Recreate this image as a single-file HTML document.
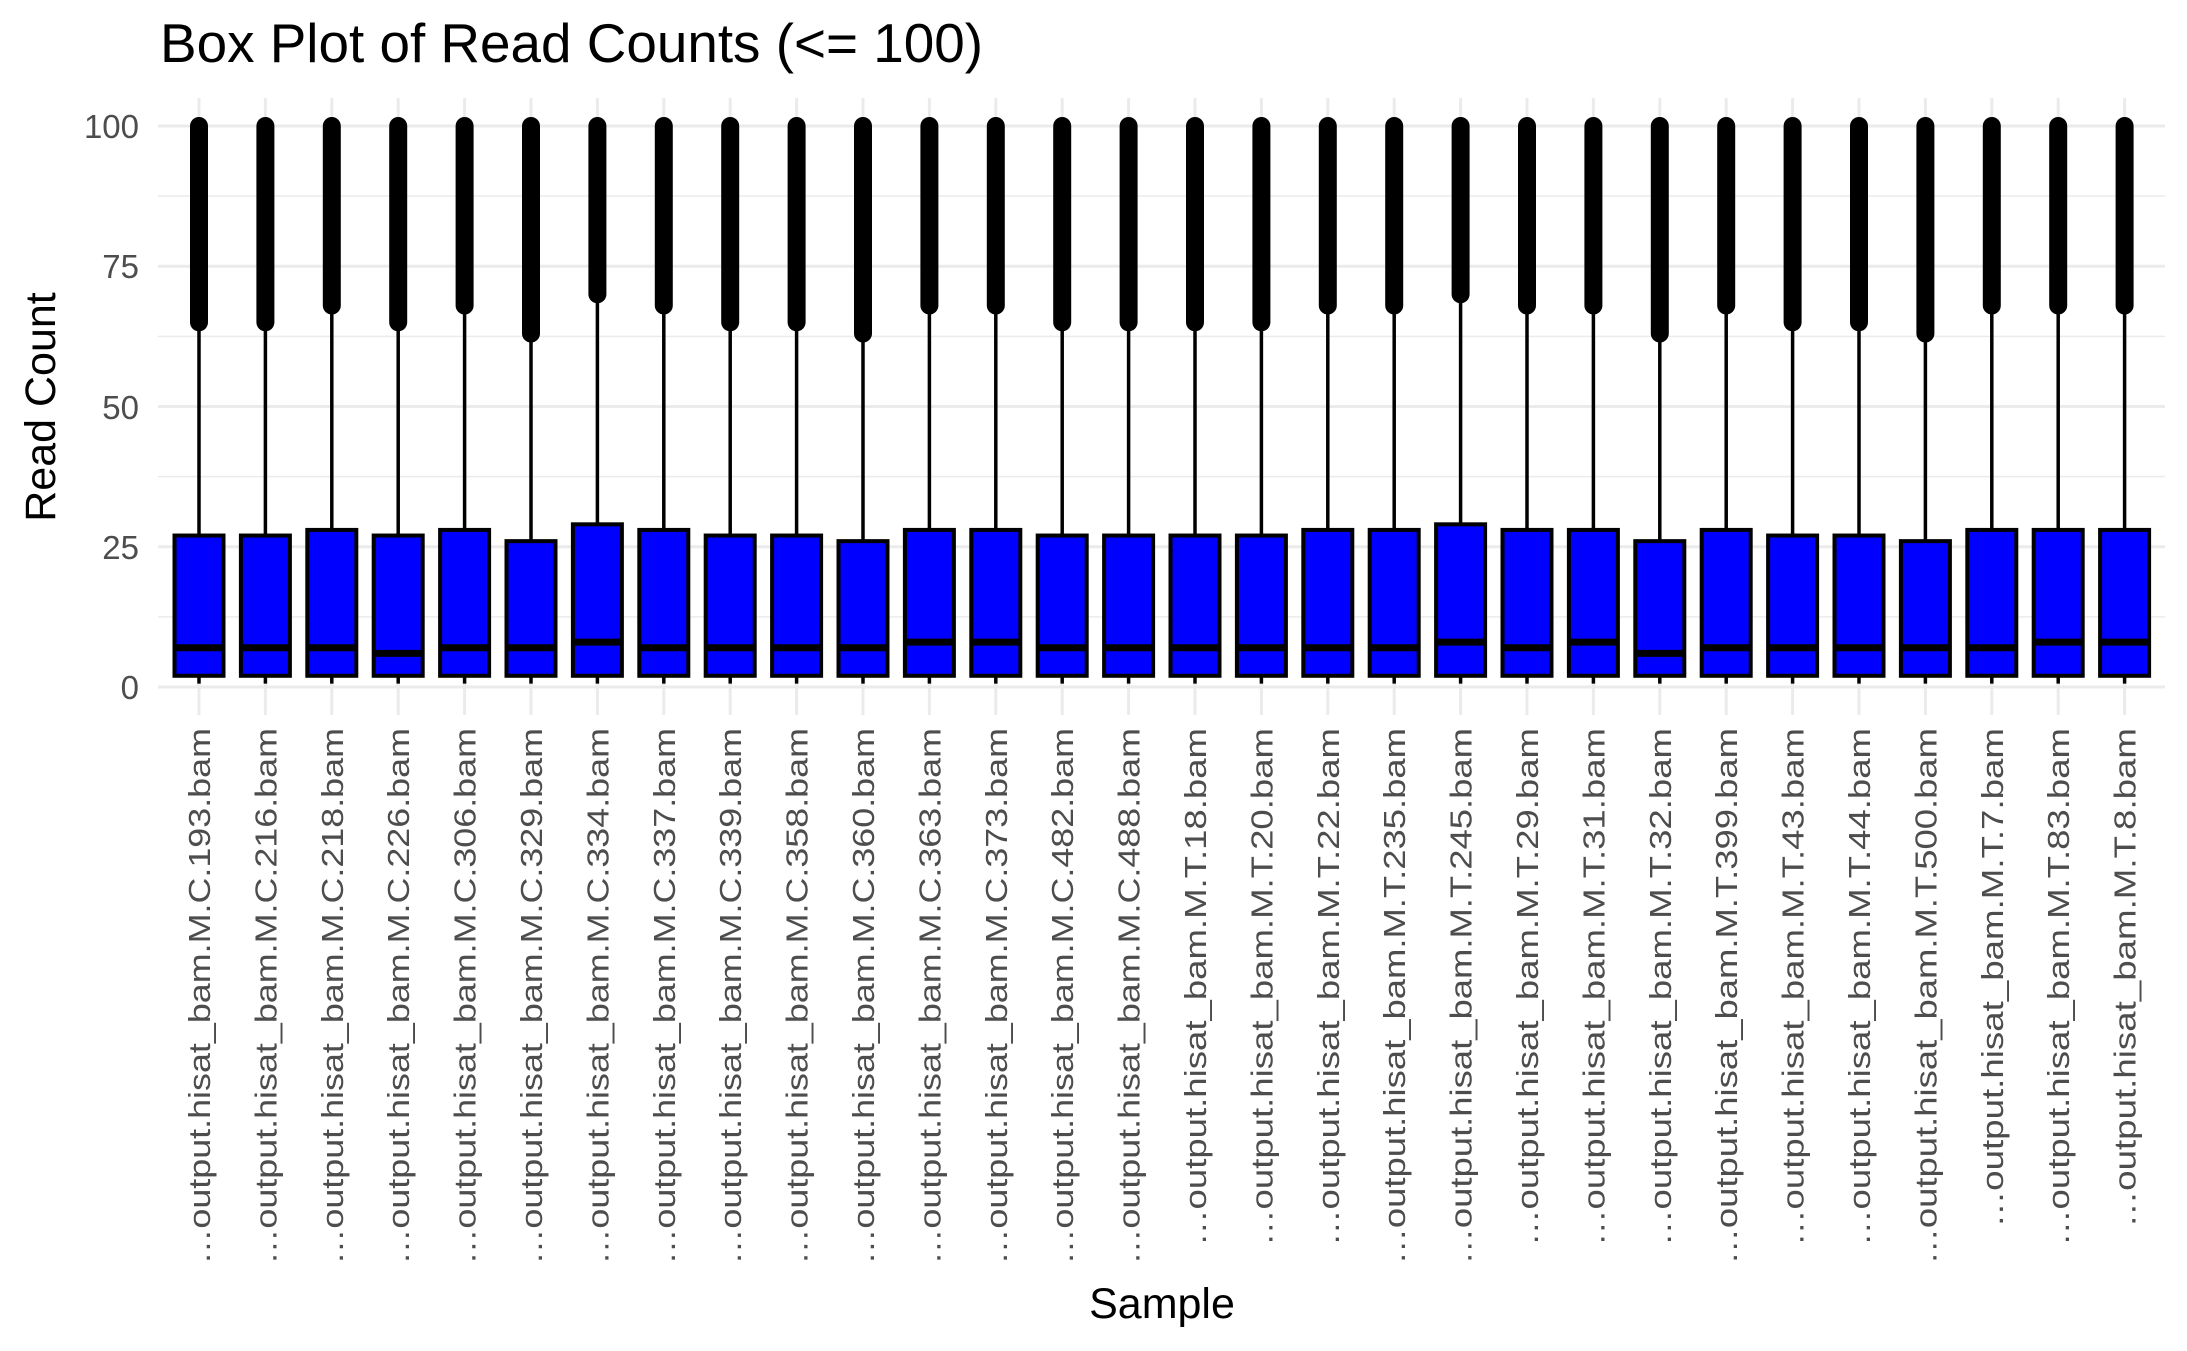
<!DOCTYPE html>
<html><head><meta charset="utf-8"><style>
html,body{margin:0;padding:0;background:#fff;width:2187px;height:1351px;overflow:hidden}
svg{display:block}
text{font-family:"Liberation Sans",sans-serif}
</style></head><body>
<svg id="s" width="2187" height="1351" viewBox="0 0 2187 1351" xmlns="http://www.w3.org/2000/svg">
<rect width="2187" height="1351" fill="#fff"/>
<g id="grid"></g>
<g id="boxes"></g>
<text x="160" y="62" font-size="55" fill="#000" textLength="823" lengthAdjust="spacingAndGlyphs">Box Plot of Read Counts (&lt;= 100)</text>
<g font-size="33" fill="#4d4d4d" text-anchor="end">
<text x="139" y="138">100</text>
<text x="139" y="278">75</text>
<text x="139" y="419">50</text>
<text x="139" y="559">25</text>
<text x="139" y="699">0</text>
</g>
<text transform="translate(55,407) rotate(-90)" font-size="43" text-anchor="middle" fill="#000">Read Count</text>
<text x="1162" y="1318" font-size="43" text-anchor="middle" fill="#000">Sample</text>
<g id="labels" font-size="31" fill="#4d4d4d" text-anchor="end">
<text>…output.hisat_bam.M.C.193.bam</text>
<text>…output.hisat_bam.M.C.216.bam</text>
<text>…output.hisat_bam.M.C.218.bam</text>
<text>…output.hisat_bam.M.C.226.bam</text>
<text>…output.hisat_bam.M.C.306.bam</text>
<text>…output.hisat_bam.M.C.329.bam</text>
<text>…output.hisat_bam.M.C.334.bam</text>
<text>…output.hisat_bam.M.C.337.bam</text>
<text>…output.hisat_bam.M.C.339.bam</text>
<text>…output.hisat_bam.M.C.358.bam</text>
<text>…output.hisat_bam.M.C.360.bam</text>
<text>…output.hisat_bam.M.C.363.bam</text>
<text>…output.hisat_bam.M.C.373.bam</text>
<text>…output.hisat_bam.M.C.482.bam</text>
<text>…output.hisat_bam.M.C.488.bam</text>
<text>…output.hisat_bam.M.T.18.bam</text>
<text>…output.hisat_bam.M.T.20.bam</text>
<text>…output.hisat_bam.M.T.22.bam</text>
<text>…output.hisat_bam.M.T.235.bam</text>
<text>…output.hisat_bam.M.T.245.bam</text>
<text>…output.hisat_bam.M.T.29.bam</text>
<text>…output.hisat_bam.M.T.31.bam</text>
<text>…output.hisat_bam.M.T.32.bam</text>
<text>…output.hisat_bam.M.T.399.bam</text>
<text>…output.hisat_bam.M.T.43.bam</text>
<text>…output.hisat_bam.M.T.44.bam</text>
<text>…output.hisat_bam.M.T.500.bam</text>
<text>…output.hisat_bam.M.T.7.bam</text>
<text>…output.hisat_bam.M.T.83.bam</text>
<text>…output.hisat_bam.M.T.8.bam</text>
</g>
</svg>
<script>
(function(){
var NS="http://www.w3.org/2000/svg";
function el(p,t,a){var e=document.createElementNS(NS,t);for(var k in a)e.setAttribute(k,a[k]);p.appendChild(e);return e;}
function Y(v){return 687-5.61*v;}
function X(i){return 199+66.4*i;}
var g=document.getElementById('grid'),b=document.getElementById('boxes');
for(var v=0;v<=100;v+=12.5){el(g,'line',{x1:158,x2:2165,y1:Y(v),y2:Y(v),stroke:'#ebebeb','stroke-width':(v%25==0)?3:1.5});}
for(var i=0;i<30;i++){el(g,'line',{x1:X(i),x2:X(i),y1:98,y2:715,stroke:'#ebebeb','stroke-width':3});}
var q3=[27,27,28,27,28,26,29,28,27,27,26,28,28,27,27,27,27,28,28,29,28,28,26,28,27,27,26,28,28,28];
var md=[7,7,7,6,7,7,8,7,7,7,7,8,8,7,7,7,7,7,7,8,7,8,6,7,7,7,7,7,8,8];
var ou=[65,65,68,65,68,63,70,68,65,65,63,68,68,65,65,65,65,68,68,70,68,68,63,68,65,65,63,68,68,68];
for(var i=0;i<30;i++){
 var x=X(i);
 el(b,'line',{x1:x,x2:x,y1:Y(ou[i]),y2:Y(q3[i]),stroke:'#000','stroke-width':3.5});
 el(b,'line',{x1:x,x2:x,y1:Y(2),y2:Y(0.6),stroke:'#000','stroke-width':3.5});
 el(b,'line',{x1:x,x2:x,y1:Y(100),y2:Y(ou[i]),stroke:'#000','stroke-width':18,'stroke-linecap':'round'});
 el(b,'rect',{x:x-24.5,y:Y(q3[i]),width:49,height:Y(2)-Y(q3[i]),fill:'#0000ff',stroke:'#000','stroke-width':4});
 el(b,'line',{x1:x-24.5,x2:x+24.5,y1:Y(md[i]),y2:Y(md[i]),stroke:'#000','stroke-width':7});
}
var ls=document.getElementById('labels').children;
for(var i=0;i<ls.length;i++){
 var t=ls[i],n=t.textContent.length;
 t.setAttribute('transform','translate('+(X(i)+11)+',728) rotate(-90)');
 t.setAttribute('textLength',(n*18.5).toFixed(1));
 t.setAttribute('lengthAdjust','spacingAndGlyphs');
}
})();
</script>
</body></html>
